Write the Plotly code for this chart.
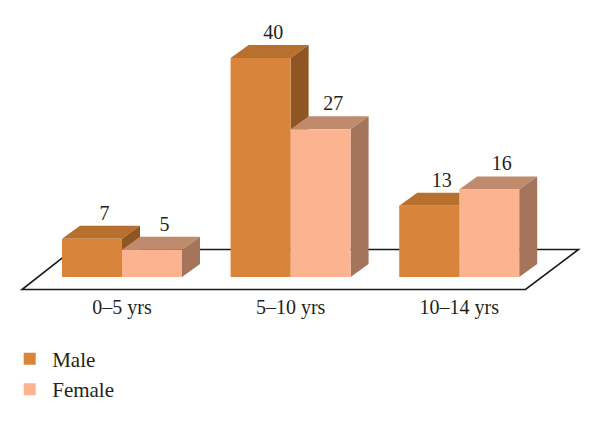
import plotly.graph_objects as go

categories = ["0–5 yrs", "5–10 yrs", "10–14 yrs"]
male = [7, 40, 13]
female = [5, 27, 16]

W, H = 600, 422
PLOT_BOTTOM = 292
X0, XSTEP = 122, 168.6    # pixel of the first group centre, pixels per group
BASE, YSCALE = 277, 5.475  # pixel of value 0, pixels per value unit
BAR = 60 / XSTEP
DX, DY = 18 / XSTEP, 13 / YSCALE
FONT = "Liberation Serif"
TXT = "#231f20"

def px_x(p):
    return (p - X0) / XSTEP

def px_y(p):
    return (BASE - p) / YSCALE

xs = list(range(len(categories)))
fig = go.Figure()

def faces(values, side_offset, top_col, side_col):
    for i, v in zip(xs, values):
        l = i + side_offset
        r = l + BAR
        fig.add_trace(go.Scatter(
            x=[l, r, r + DX, l + DX, l], y=[v, v, v + DY, v + DY, v],
            mode="lines", fill="toself", fillcolor=top_col,
            line=dict(width=0, color=top_col), showlegend=False, hoverinfo="skip"))
        fig.add_trace(go.Scatter(
            x=[r, r + DX, r + DX, r, r], y=[v, v + DY, DY, 0, v],
            mode="lines", fill="toself", fillcolor=side_col,
            line=dict(width=0, color=side_col), showlegend=False, hoverinfo="skip"))

faces(male, -BAR, "#b8702e", "#8f5523")
faces(female, 0, "#c08a6c", "#a5755b")

fig.add_trace(go.Bar(name="Male", x=xs, y=male, marker=dict(color="#d9843b", line=dict(width=0)),
                     xaxis="x2", yaxis="y2", legendgroup="m"))
fig.add_trace(go.Bar(name="Female", x=xs, y=female, marker=dict(color="#fbb48f", line=dict(width=0)),
                     xaxis="x2", yaxis="y2", legendgroup="f"))

for values, off in ((male, -BAR / 2), (female, BAR / 2)):
    fig.add_trace(go.Scatter(
        x=[i + off + DX * 0.7 for i in xs], y=[v + DY + 0.2 for v in values],
        mode="text", text=[str(v) for v in values], textposition="top center",
        textfont=dict(family=FONT, size=20, color=TXT),
        xaxis="x2", yaxis="y2", showlegend=False, hoverinfo="skip", cliponaxis=False))

xr = [px_x(0), px_x(W)]
yr = [px_y(PLOT_BOTTOM), px_y(0)]

floor = [(22, 289.5), (525.5, 289.5), (578.5, 249.5), (73, 249.5)]
path = "M" + " L".join(f"{px_x(a):.4f},{px_y(b):.4f}" for a, b in floor) + " Z"

fig.update_layout(
    width=W, height=H, autosize=False,
    margin=dict(l=0, r=0, t=0, b=H - PLOT_BOTTOM, pad=0, autoexpand=False),
    paper_bgcolor="white", plot_bgcolor="white",
    barmode="group", bargap=1 - 2 * BAR, bargroupgap=0,
    font=dict(family=FONT, size=20, color=TXT),
    xaxis=dict(range=xr, tickmode="array", tickvals=xs, ticktext=categories,
               showgrid=False, zeroline=False, showline=False, automargin=False,
               ticks="outside", ticklen=3, tickcolor="rgba(0,0,0,0)", ticklabelstandoff=-6,
               tickfont=dict(family=FONT, size=20, color=TXT)),
    yaxis=dict(range=yr, visible=False),
    xaxis2=dict(range=xr, overlaying="x", visible=False),
    yaxis2=dict(range=yr, overlaying="y", visible=False),
    shapes=[dict(type="path", path=path, xref="x", yref="y", layer="below",
                 fillcolor="white", line=dict(color="#1a1a1a", width=1.6))],
    legend=dict(x=0.012, xanchor="left", y=-0.16, yanchor="top", yref="paper",
                itemwidth=35, tracegroupgap=0, bgcolor="rgba(0,0,0,0)",
                font=dict(family=FONT, size=21, color=TXT)),
)

fig.write_html("out.html", post_script="document.body.style.margin='0';",
               config={"displayModeBar": False})
